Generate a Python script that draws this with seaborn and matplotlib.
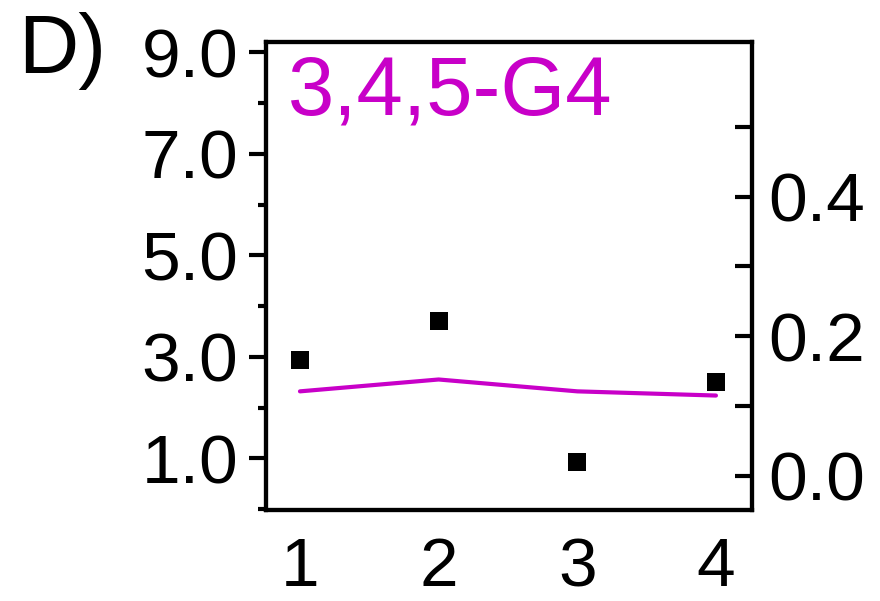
import matplotlib
matplotlib.use("Agg")
import matplotlib.pyplot as plt
import seaborn as sns
import pandas as pd

# Data
steps = [1, 2, 3, 4]
square_values = [2.94, 3.71, 0.93, 2.51]      # left axis
line_values = [0.121, 0.138, 0.121, 0.115]    # right axis
left_major = [1.0, 3.0, 5.0, 7.0, 9.0]
left_minor = [0.0, 2.0, 4.0, 6.0, 8.0]
right_major = [0.0, 0.2, 0.4]
right_minor = [0.1, 0.3, 0.5]
panel_label = "D)"
series_label = "3,4,5-G4"

MAGENTA = "#C800C8"

sns.set_style("ticks")
plt.rcParams["font.family"] = ["Liberation Sans", "DejaVu Sans"]
plt.rcParams["text.color"] = "black"
plt.rcParams["xtick.color"] = "black"
plt.rcParams["ytick.color"] = "black"
plt.rcParams["axes.edgecolor"] = "black"

df_sq = pd.DataFrame({"step": steps, "value": square_values})
df_ln = pd.DataFrame({"step": steps, "value": line_values})

fig = plt.figure(figsize=(8.8, 6.01), dpi=100)
ax = fig.add_axes([266 / 880, 91 / 601, (752 - 266) / 880, (510 - 41.7) / 601])
ax2 = ax.twinx()

sns.scatterplot(data=df_sq, x="step", y="value", ax=ax, marker="s", s=150,
                color="black", edgecolor="black", linewidth=0, zorder=3)
sns.lineplot(data=df_ln, x="step", y="value", ax=ax2, color=MAGENTA,
             linewidth=3.0, zorder=2)

ax.set_xlim(0.755, 4.26)
ax.set_ylim(-0.02, 9.21)
ax2.set_ylim(-0.049, 0.622)

ax.set_xticks(steps)
ax.set_xticklabels([str(s) for s in steps])
ax.set_yticks(left_major)
ax.set_yticklabels([f"{v:.1f}" for v in left_major])
ax.set_yticks(left_minor, minor=True)
ax2.set_yticks(right_major)
ax2.set_yticklabels([f"{v:.1f}" for v in right_major])
ax2.set_yticks(right_minor, minor=True)

for a in (ax, ax2):
    a.set_xlabel("")
    a.set_ylabel("")
    for sp in a.spines.values():
        sp.set_linewidth(3.0)
        sp.set_color("black")
    a.spines["top"].set_visible(True)
    a.spines["right"].set_visible(True)

ax.tick_params(axis="x", length=0, labelsize=50, pad=19, labelcolor="black")
ax.tick_params(axis="y", which="major", direction="out", length=12, width=3,
               labelsize=50, pad=8, labelcolor="black")
ax.tick_params(axis="y", which="minor", direction="out", length=6, width=3)
ax2.tick_params(axis="y", which="both", direction="in", length=12, width=3,
                labelsize=50, pad=12, left=False, right=True,
                labelcolor="black")

ax.text(0.045, (510 - 115) / 468.3, series_label, transform=ax.transAxes,
        color=MAGENTA, fontsize=60, ha="left", va="baseline")
fig.text(18 / 880, 1 - 73 / 601, panel_label, fontsize=60, ha="left",
         va="baseline", color="black")

fig.savefig("out.png", dpi=100)
